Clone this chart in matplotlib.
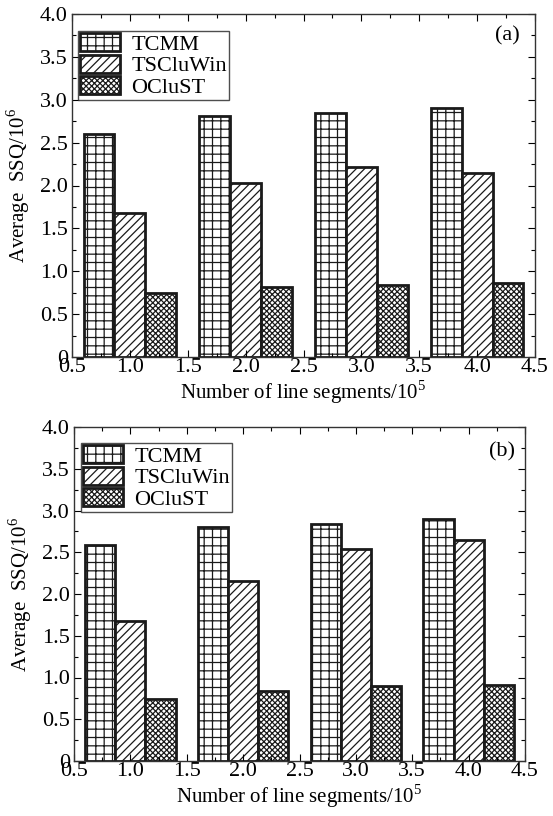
import matplotlib
matplotlib.use("Agg")
import matplotlib.pyplot as plt
import numpy as np

plt.rcParams['font.family'] = ['Liberation Serif', 'DejaVu Serif']
plt.rcParams['mathtext.fontset'] = 'custom'
plt.rcParams['mathtext.rm'] = 'Liberation Serif'
plt.rcParams['hatch.linewidth'] = 0.9

groups = [1.0, 2.0, 3.0, 4.0]
series = ["TCMM", "TSCluWin", "OCluST"]
hatches = ["++", "////", "xxxxxx"]

tcmm_a = [2.60, 2.81, 2.85, 2.90]
tsclu_a = [1.675, 2.03, 2.21, 2.145]
oclust_a = [0.75, 0.815, 0.835, 0.865]

tcmm_b = [2.59, 2.80, 2.84, 2.895]
tsclu_b = [1.68, 2.16, 2.535, 2.645]
oclust_b = [0.74, 0.835, 0.895, 0.915]

panel_labels = ["(a)", "(b)"]
xticks = [0.5, 1.0, 1.5, 2.0, 2.5, 3.0, 3.5, 4.0, 4.5]
yticks = [0, 0.5, 1.0, 1.5, 2.0, 2.5, 3.0, 3.5, 4.0]
yticklabels = ["0", "0.5", "1.0", "1.5", "2.0", "2.5", "3.0", "3.5", "4.0"]

W, H = 553, 816
fig = plt.figure(figsize=(W / 100, H / 100), dpi=100)

axes_rects = [
    [72 / W, 1 - 357 / H, (535 - 72) / W, (357 - 14) / H],
    [74 / W, 1 - 761 / H, (525 - 74) / W, (761 - 427) / H],
]
legend_anchor = [(0.013, 0.950), (0.0155, 0.952)]
label_pos = [(0.968, 0.936), (0.978, 0.925)]

data = [(tcmm_a, tsclu_a, oclust_a), (tcmm_b, tsclu_b, oclust_b)]
bw = 0.267
x = np.array(groups)

for rect, vals, plabel, la, lp in zip(axes_rects, data, panel_labels, legend_anchor, label_pos):
    ax = fig.add_axes(rect)
    for i, (name, v, h) in enumerate(zip(series, vals, hatches)):
        ax.bar(x + (i - 1) * bw, v, width=bw, facecolor='white', edgecolor='#1a1a1a',
               linewidth=2.0, hatch=h, label=name)
    ax.set_xlim(0.5, 4.5)
    ax.set_ylim(0, 4.0)
    ax.set_xticks(xticks)
    ax.set_xticklabels([f"{t:.1f}" for t in xticks])
    ax.set_yticks(yticks)
    ax.set_yticklabels(yticklabels)
    ax.set_xticks(np.arange(0.75, 4.5, 0.5), minor=True)
    ax.set_yticks(np.arange(0.25, 4.0, 0.5), minor=True)
    ax.tick_params(which='both', direction='in', top=True, right=True,
                   labelsize=16)
    ax.tick_params(axis='x', which='both', pad=1)
    ax.tick_params(axis='y', which='both', pad=3)
    ax.tick_params(which='major', length=5, width=0.8)
    ax.tick_params(which='minor', length=3, width=0.8)
    for s in ax.spines.values():
        s.set_linewidth(1.0)
        s.set_color('#333333')
    ax.set_xlabel("Number of line segments/10$^5$", fontsize=15, labelpad=1)
    ax.set_ylabel("Average  SSQ/10$^6$", fontsize=15, labelpad=6)
    ax.text(lp[0], lp[1], plabel, transform=ax.transAxes, ha='right', va='center',
            fontsize=16)
    leg = ax.legend(loc='upper left', bbox_to_anchor=la, fontsize=16,
                    frameon=True, fancybox=False, handlelength=1.8, handleheight=0.85,
                    handletextpad=0.5, labelspacing=0.0, borderpad=0.1,
                    borderaxespad=0)
    leg.get_frame().set_edgecolor('#222222')
    leg.get_frame().set_linewidth(1.0)

fig.savefig("out.png", dpi=100)
